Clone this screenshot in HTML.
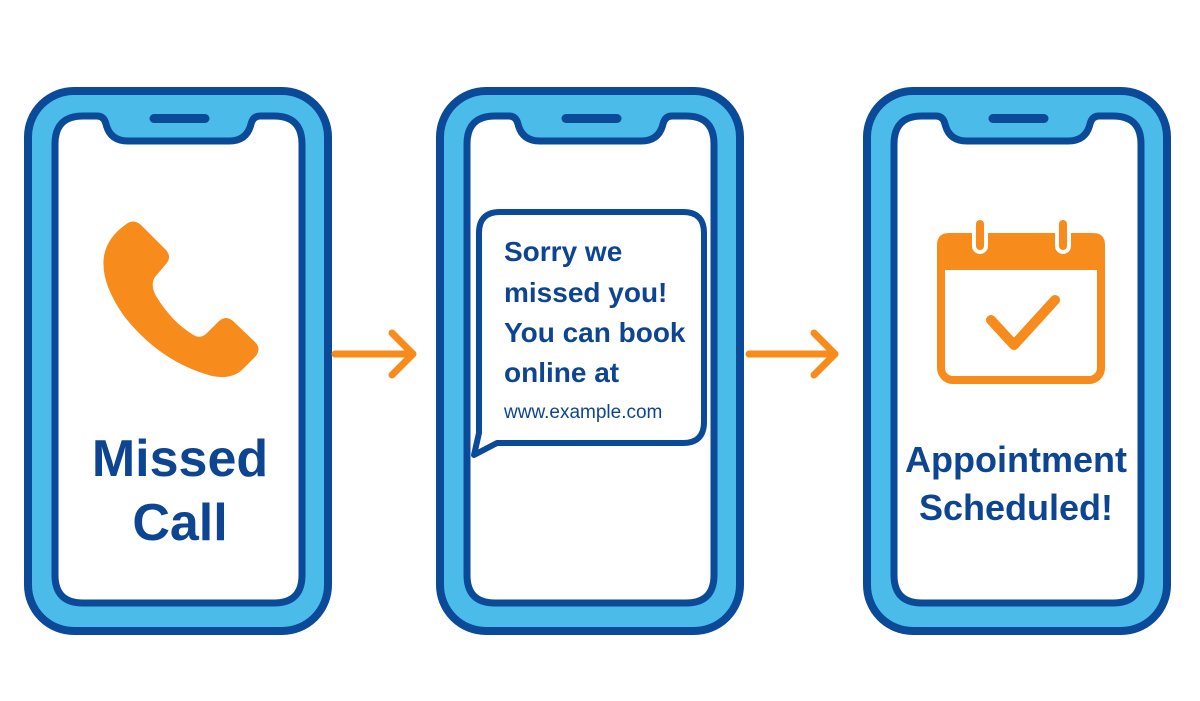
<!DOCTYPE html>
<html><head><meta charset="utf-8"><style>
html,body{margin:0;padding:0;background:#fff;}
svg{display:block;}
text{font-family:"Liberation Sans",Arial,sans-serif;fill:#0d4592;font-weight:bold;}
</style></head><body>
<svg width="1200" height="701" viewBox="0 0 1200 701">
<defs>
<g id="ph">
<rect x="28" y="91" width="300" height="540" rx="46" fill="#4bbbe9" stroke="#0b4a99" stroke-width="8"/>
<path d="M83,116 L97,116 Q104,116 106,124 Q110,141 128,141 L229,141 Q247,141 251,124 Q253,116 260,116 L274,116 Q302,116 302,144 L302,575 Q302,603 274,603 L83,603 Q55,603 55,575 L55,144 Q55,116 83,116 Z" fill="#fff" stroke="#0b4a99" stroke-width="7"/>
<line x1="154" y1="118.5" x2="205" y2="118.5" stroke="#0b4a99" stroke-width="9" stroke-linecap="round"/>
</g>
</defs>
<use href="#ph"/>
<use href="#ph" transform="translate(412,0)"/>
<use href="#ph" transform="translate(839,0)"/>

<!-- phone icon -->
<path d="M125,225 Q133,218 141,225 L166,250 Q172,257 166,264 L155,277 Q150,285 156,296 Q172,322 192,334 Q200,340 207,333 L219,321 Q226,315 233,321 L255,342 Q262,349 255,357 L243,369 Q232,380 212,376 Q160,362 124,316 Q100,282 104,256 Q107,238 125,225 Z" fill="#f78c1c"/>
<text x="180" y="476" font-size="52" text-anchor="middle" font-weight="normal" style="font-weight:600">Missed</text>
<text x="180" y="540" font-size="52" text-anchor="middle" style="font-weight:600">Call</text>

<!-- arrows -->
<g stroke="#f78c1c" stroke-width="7" fill="none" stroke-linecap="round" stroke-linejoin="round">
<line x1="335" y1="354" x2="412" y2="354"/><polyline points="392,333 413,354 392,375"/>
<line x1="749" y1="354" x2="834" y2="354"/><polyline points="814,333 835,354 814,375"/>
</g>

<!-- bubble -->
<path d="M500,212 L683,212 Q704,212 704,233 L704,422 Q704,443 683,443 L497,443 L474,455 L479,433 L479,233 Q479,212 500,212 Z" fill="#fff" stroke="#0b4a99" stroke-width="6" stroke-linejoin="round"/>
<text x="504" y="261" font-size="28">Sorry we</text>
<text x="504" y="302" font-size="28">missed you!</text>
<text x="504" y="342" font-size="28">You can book</text>
<text x="504" y="382" font-size="28">online at</text>
<text x="504" y="418" font-size="19" style="font-weight:normal;font-weight:500">www.example.com</text>

<!-- calendar -->
<rect x="941" y="237" width="160" height="143" rx="12" fill="#fff" stroke="#f78c1c" stroke-width="8"/>
<path d="M949,233 L1093,233 Q1105,233 1105,245 L1105,270 L937,270 L937,245 Q937,233 949,233 Z" fill="#f78c1c"/>
<g stroke="#fff" stroke-width="16" stroke-linecap="round"><line x1="980" y1="230" x2="980" y2="246"/><line x1="1063" y1="230" x2="1063" y2="246"/></g>
<g stroke="#f78c1c" stroke-width="8" stroke-linecap="round"><line x1="980" y1="224" x2="980" y2="246"/><line x1="1063" y1="224" x2="1063" y2="246"/></g>
<polyline points="991,320 1014,345 1055,300" fill="none" stroke="#f78c1c" stroke-width="10" stroke-linecap="round" stroke-linejoin="round"/>
<text x="1016" y="472" font-size="36" text-anchor="middle" style="font-weight:600">Appointment</text>
<text x="1016" y="520" font-size="36" text-anchor="middle" style="font-weight:600">Scheduled!</text>
</svg>
</body></html>
